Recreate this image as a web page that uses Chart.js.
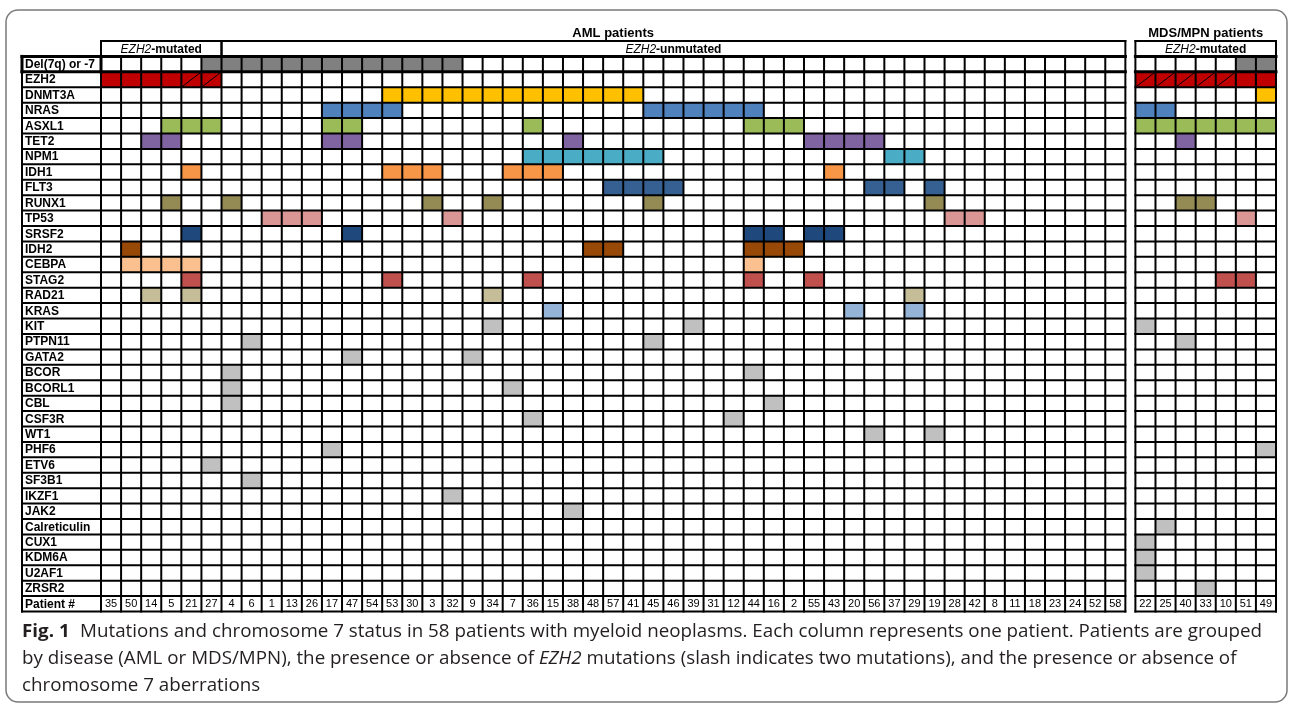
<!DOCTYPE html>
<html>
<head>
<meta charset="utf-8">
<script src="https://cdn.jsdelivr.net/npm/chart.js@4.4.1/dist/chart.umd.min.js"></script>
<style>
  html, body { margin: 0; padding: 0; background: #fff; }
  #wrap { position: relative; width: 1290px; height: 704px; }
</style>
</head>
<body>
<div id="wrap"><canvas id="mutChart" width="1290" height="704"></canvas></div>
<script>
// patient order, left to right
const amlPatients = [35, 50, 14, 5, 21, 27, 4, 6, 1, 13, 26, 17, 47, 54, 53, 30, 3, 32, 9, 34, 7, 36, 15, 38, 48, 57,
  41, 45, 46, 39, 31, 12, 44, 16, 2, 55, 43, 20, 56, 37, 29, 19, 28, 42, 8, 11, 18, 23, 24, 52, 58];
const mdsPatients = [22, 25, 40, 33, 10, 51, 49];

// patients carrying each alteration
const del7 = [27, 4, 6, 1, 13, 26, 17, 47, 54, 53, 30, 3, 32, 51, 49];
const ezh2 = [35, 50, 14, 5, 21, 27, 22, 25, 40, 33, 10, 51, 49];
const ezh2Double = [21, 27, 22, 25, 40, 33, 10];
const dnmt3a = [53, 30, 3, 32, 9, 34, 7, 36, 15, 38, 48, 57, 41, 49];
const nras = [17, 47, 54, 53, 45, 46, 39, 31, 12, 44, 22, 25];
const asxl1 = [5, 21, 27, 17, 47, 36, 44, 16, 2, 22, 25, 40, 33, 10, 51, 49];
const tet2 = [14, 5, 17, 47, 38, 55, 43, 20, 56, 40];
const npm1 = [36, 15, 38, 48, 57, 41, 45, 37, 29];
const idh1 = [21, 53, 30, 3, 7, 36, 15, 43];
const flt3 = [57, 41, 45, 46, 56, 37, 19];
const runx1 = [5, 4, 3, 34, 45, 19, 40, 33];
const tp53 = [1, 13, 26, 32, 28, 42, 51];
const srsf2 = [21, 47, 44, 16, 55, 43];
const idh2 = [50, 48, 57, 44, 16, 2];
const cebpa = [50, 14, 5, 21, 44];
const stag2 = [21, 53, 36, 44, 55, 10, 51];
const rad21 = [14, 21, 34, 29];
const kras = [15, 20, 29];
const kit = [34, 39, 22];
const ptpn11 = [6, 45, 40];
const gata2 = [47, 9];
const bcor = [4, 44];
const bcorl1 = [4, 7];
const cbl = [4, 16];
const csf3r = [36, 12];
const wt1 = [56, 19];
const phf6 = [17, 49];
const etv6 = [27];
const sf3b1 = [6];
const ikzf1 = [32];
const jak2 = [38];
const calr = [25];
const cux1 = [22];
const kdm6a = [22];
const u2af1 = [22];
const zrsr2 = [33];

const rowLabels = ['Del(7q) or -7', 'EZH2', 'DNMT3A', 'NRAS', 'ASXL1', 'TET2', 'NPM1', 'IDH1', 'FLT3', 'RUNX1',
  'TP53', 'SRSF2', 'IDH2', 'CEBPA', 'STAG2', 'RAD21', 'KRAS', 'KIT', 'PTPN11', 'GATA2', 'BCOR', 'BCORL1', 'CBL',
  'CSF3R', 'WT1', 'PHF6', 'ETV6', 'SF3B1', 'IKZF1', 'JAK2', 'Calreticulin', 'CUX1', 'KDM6A', 'U2AF1', 'ZRSR2',
  'Patient #'];
const rowPatients = [del7, ezh2, dnmt3a, nras, asxl1, tet2, npm1, idh1, flt3, runx1, tp53, srsf2, idh2, cebpa,
  stag2, rad21, kras, kit, ptpn11, gata2, bcor, bcorl1, cbl, csf3r, wt1, phf6, etv6, sf3b1, ikzf1, jak2, calr,
  cux1, kdm6a, u2af1, zrsr2];

const rowColors = ['#808080', '#c00000', '#ffc000', '#4f81bd', '#9bbb59', '#8064a2', '#4bacc6', '#f79646',
  '#376092', '#948a54', '#d99694', '#1f497d', '#984807', '#fac090', '#c0504d', '#c4bd97', '#95b3d7'];
const otherColor = '#c0c0c0';

// x position of a patient column (small gap before the MDS/MPN block)
function colOf(p) {
  const i = amlPatients.indexOf(p);
  if (i >= 0) return i;
  return amlPatients.length + 0.5 + mdsPatients.indexOf(p);
}

const datasets = rowPatients.map((pts, k) => ({
  label: rowLabels[k],
  data: pts.map(p => ({ x: colOf(p), y: [k - 0.5, k + 0.5] })),
  backgroundColor: rowColors[k] || otherColor,
  borderWidth: 0,
  grouped: false,
  barPercentage: 1,
  categoryPercentage: 1
}));

const amlMutated = amlPatients.filter(p => ezh2.includes(p)).length;
const blocks = [
  { from: -0.5, to: amlPatients.length - 0.5, title: 'AML patients',
    subs: [{ from: -0.5, to: amlMutated - 0.5, tail: '-mutated' },
           { from: amlMutated - 0.5, to: amlPatients.length - 0.5, tail: '-unmutated' }] },
  { from: amlPatients.length, to: amlPatients.length + mdsPatients.length, title: 'MDS/MPN patients',
    subs: [{ from: amlPatients.length, to: amlPatients.length + mdsPatients.length, tail: '-mutated' }] }
];

const FONT = '"Liberation Sans", Arial, sans-serif';
const CAPTION_FONT = '"Open Sans", "Noto Sans", sans-serif';

function seg(ctx, x1, y1, x2, y2) {
  ctx.beginPath();
  ctx.moveTo(x1, y1);
  ctx.lineTo(x2, y2);
  ctx.stroke();
}

function drawRuns(ctx, runs, x0, y0, sx) {
  ctx.save();
  ctx.translate(x0, y0);
  ctx.scale(sx, 1);
  let cx = 0;
  runs.forEach(r => {
    ctx.font = r.font;
    ctx.fillText(r.text, cx, 0);
    cx += ctx.measureText(r.text).width + (r.gap || 0);
  });
  ctx.restore();
}

function runsWidth(ctx, runs) {
  let w = 0;
  runs.forEach(r => { ctx.font = r.font; w += ctx.measureText(r.text).width + (r.gap || 0); });
  return w;
}

const tablePlugin = {
  id: 'tableGrid',
  beforeDraw(chart) {
    const ctx = chart.ctx;
    ctx.save();
    ctx.fillStyle = '#fff';
    ctx.fillRect(0, 0, chart.width, chart.height);
    ctx.restore();
  },
  afterDatasetsDraw(chart) {
    const { ctx, scales: { x, y } } = chart;
    const px = v => x.getPixelForValue(v);
    const py = v => y.getPixelForValue(v);
    const nRows = rowLabels.length;
    const labelLeft = px(-0.5) - 79;

    ctx.save();
    ctx.strokeStyle = '#000';

    // slashes: two EZH2 mutations
    ctx.lineWidth = 1;
    ezh2Double.forEach(p => {
      const c = colOf(p);
      seg(ctx, px(c - 0.5), py(1.5), px(c + 0.5), py(0.5));
    });

    ctx.lineCap = 'square';
    // horizontal rules
    for (let k = 0; k <= nRows; k++) {
      ctx.lineWidth = k <= 1 ? 3 : 2;
      const yy = py(k - 0.5);
      seg(ctx, labelLeft, yy, px(blocks[0].to), yy);
      seg(ctx, px(blocks[1].from), yy, px(blocks[1].to), yy);
    }
    ctx.lineWidth = 2;
    blocks.forEach(b => {
      seg(ctx, px(b.from), py(-1.5), px(b.to), py(-1.5));
      const n = Math.round(b.to - b.from);
      for (let i = 0; i <= n; i++) {
        const xx = px(b.from + i);
        seg(ctx, xx, py(-0.5), xx, py(nRows - 0.5));
      }
      b.subs.forEach(s => {
        seg(ctx, px(s.from), py(-1.5), px(s.from), py(-0.5));
        seg(ctx, px(s.to), py(-1.5), px(s.to), py(-0.5));
      });
    });
    seg(ctx, labelLeft, py(-0.5), labelLeft, py(nRows - 0.5));
    ctx.lineWidth = 3;
    seg(ctx, labelLeft, py(-0.5), labelLeft, py(0.5));
    seg(ctx, px(-0.5), py(-0.5), px(-0.5), py(0.5));

    // texts
    ctx.fillStyle = '#000';
    ctx.textBaseline = 'middle';
    ctx.textAlign = 'left';
    ctx.font = 'bold 12px ' + FONT;
    rowLabels.forEach((lab, k) => ctx.fillText(lab, labelLeft + 3, py(k) + 0.5));

    blocks.forEach(b => {
      ctx.textAlign = 'center';
      ctx.font = 'bold 13px ' + FONT;
      ctx.fillText(b.title, (px(b.from) + px(b.to)) / 2, py(-1.5) - 8);
      ctx.textAlign = 'left';
      b.subs.forEach(s => {
        const it = 'italic 12px ' + FONT, bd = 'bold 12px ' + FONT;
        ctx.font = it;
        const w1 = ctx.measureText('EZH2').width;
        ctx.font = bd;
        const w2 = ctx.measureText(s.tail).width;
        const x0 = (px(s.from) + px(s.to)) / 2 - (w1 + w2) / 2;
        const yy = py(-1) + 0.5;
        ctx.font = it;
        ctx.fillText('EZH2', x0, yy);
        ctx.font = bd;
        ctx.fillText(s.tail, x0 + w1, yy);
      });
    });

    ctx.textAlign = 'center';
    ctx.font = '11px ' + FONT;
    amlPatients.concat(mdsPatients).forEach(p => {
      ctx.fillText(String(p), px(colOf(p)), py(nRows - 1) + 0.5);
    });
    ctx.restore();
  },
  afterDraw(chart) {
    const ctx = chart.ctx;
    const area = chart.chartArea;
    ctx.save();
    // figure frame
    ctx.strokeStyle = '#7a7a7a';
    ctx.lineWidth = 1.5;
    ctx.beginPath();
    ctx.roundRect(6, 10, chart.width - 9, chart.height - 12, 12);
    ctx.stroke();

    // caption
    ctx.fillStyle = '#231f20';
    ctx.textBaseline = 'middle';
    ctx.textAlign = 'left';
    const reg = '18px ' + CAPTION_FONT;
    const line1 = [
      { text: 'Fig. 1', font: 'bold 18px ' + CAPTION_FONT, gap: 10 },
      { text: 'Mutations and chromosome 7 status in 58 patients with myeloid neoplasms. Each column represents one patient. Patients are grouped', font: reg }
    ];
    const line2 = [
      { text: 'by disease (AML or MDS/MPN), the presence or absence of ', font: reg },
      { text: 'EZH2', font: 'italic 18px ' + CAPTION_FONT },
      { text: ' mutations (slash indicates two mutations), and the presence or absence of', font: reg }
    ];
    const line3 = [{ text: 'chromosome 7 aberrations', font: reg }];
    const left = 22;
    const sx = (1262 - left) / runsWidth(ctx, line1);
    drawRuns(ctx, line1, left, area.bottom + 20, sx);
    drawRuns(ctx, line2, left, area.bottom + 47, sx);
    drawRuns(ctx, line3, left, area.bottom + 74, sx);
    ctx.restore();
  }
};

new Chart(document.getElementById('mutChart'), {
  type: 'bar',
  data: { datasets },
  options: {
    responsive: false,
    animation: false,
    events: [],
    devicePixelRatio: 1,
    layout: { padding: { left: 101, right: 14, top: 41, bottom: 92.5 } },
    scales: {
      x: {
        type: 'linear',
        offset: false,
        min: -0.5,
        max: amlPatients.length + mdsPatients.length,
        display: false,
        ticks: { stepSize: 1, includeBounds: false }
      },
      y: {
        type: 'linear',
        reverse: true,
        min: -1.5,
        max: rowLabels.length - 0.5,
        display: false
      }
    },
    plugins: {
      legend: { display: false },
      tooltip: { enabled: false }
    }
  },
  plugins: [tablePlugin]
});
</script>
</body>
</html>
